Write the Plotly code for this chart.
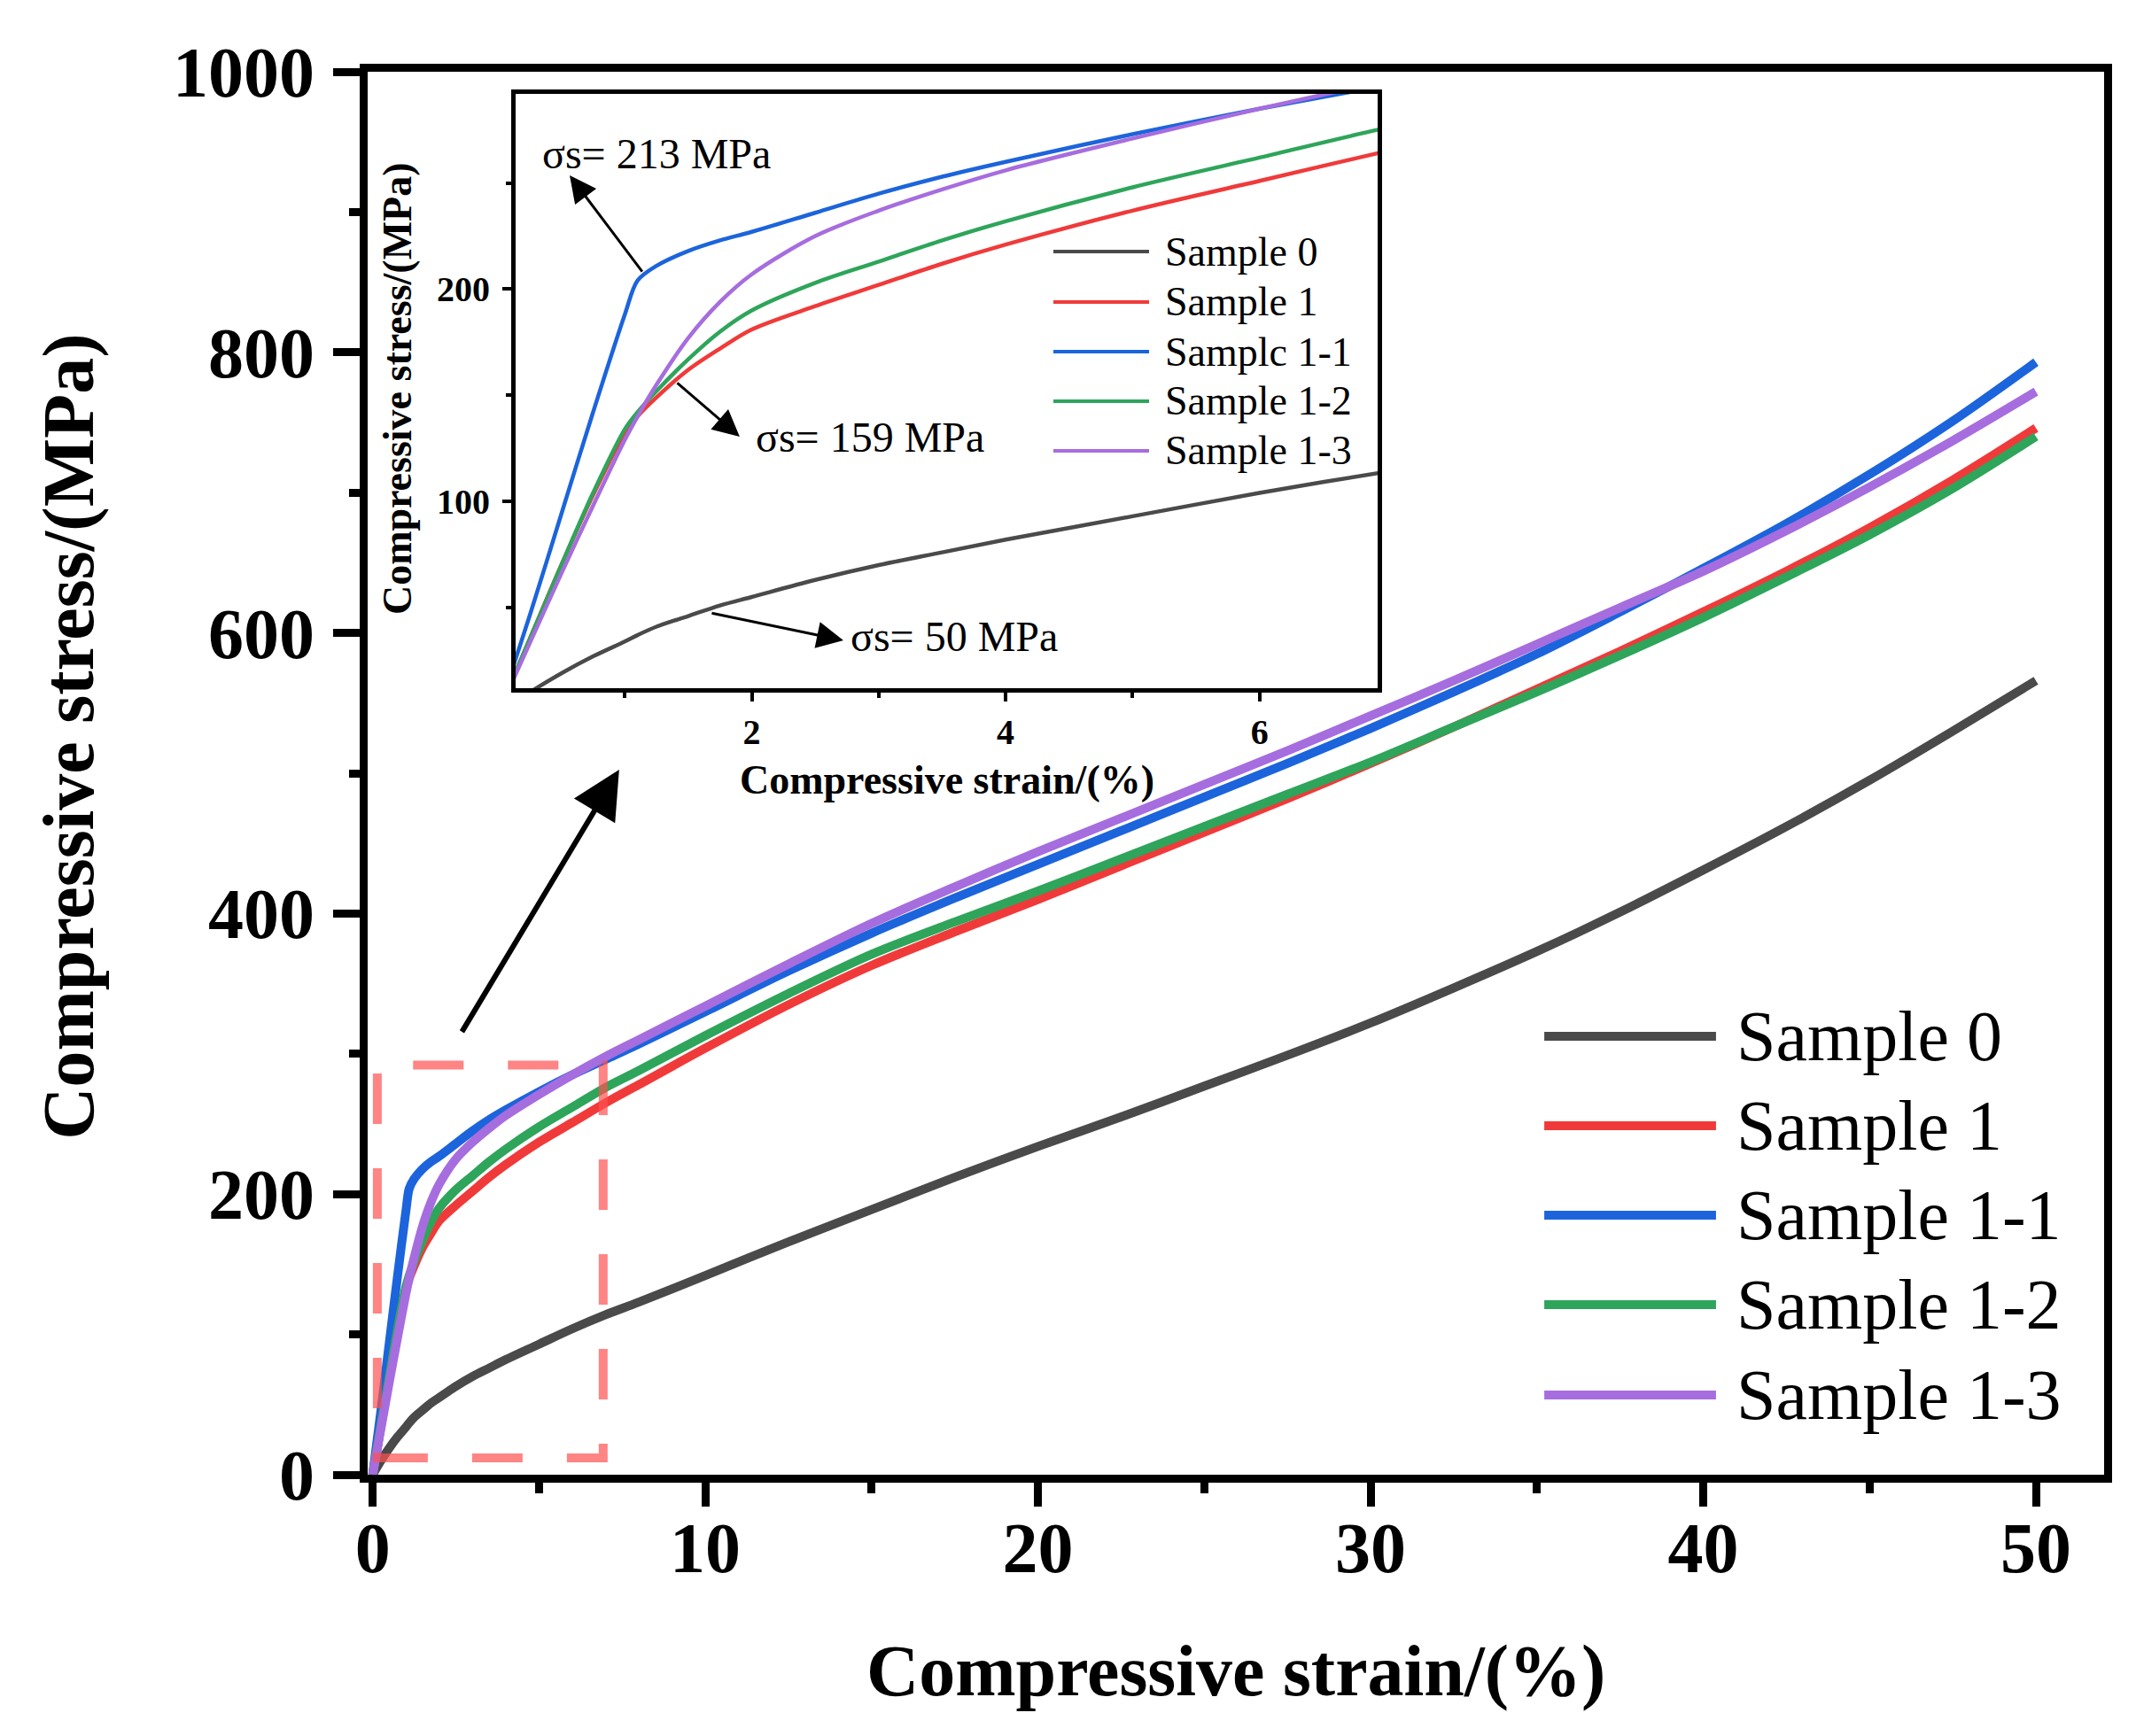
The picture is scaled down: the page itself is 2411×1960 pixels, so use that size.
import plotly.graph_objects as go

# strain (%) sample points, shared by all curves
strain = [0, 0.25, 0.5, 0.75, 1.0, 1.1, 1.25, 1.5, 1.75, 2, 2.5, 3, 3.5, 4, 5, 6, 7, 8, 10,
          12.5, 15, 17.5, 20, 22.5, 25, 27.5, 30, 32.5, 35, 37.5, 40, 42.5, 45, 47.5, 50]

# compressive stress (MPa)
sample_0 = [0, 10, 19, 27, 34, 37, 41, 46, 51, 55, 63, 70, 76, 82, 93, 104, 114, 123, 142,
            166, 189, 212, 234, 255, 277, 299, 322, 347, 373, 401, 431, 462, 495, 530, 566]
sample_1 = [0, 35, 70, 103, 132, 140, 149, 162, 172, 181, 192, 202, 212, 221, 237, 251, 265, 278, 304,
            335, 363, 387, 410, 434, 458, 482, 507, 533, 560, 587, 615, 644, 675, 709, 746]
sample_1_1 = [0, 46, 94, 142, 188, 204, 211, 218, 223, 227, 236, 245, 253, 260, 273, 285, 296, 307, 330,
              359, 386, 411, 435, 459, 483, 507, 532, 558, 585, 615, 646, 678, 713, 751, 793]
sample_1_2 = [0, 35, 70, 104, 134, 142, 152, 167, 180, 190, 203, 213, 223, 232, 248, 262, 276, 288, 313,
              343, 371, 394, 416, 439, 462, 485, 508, 533, 558, 584, 611, 640, 670, 703, 740]
sample_1_3 = [0, 33, 66, 98, 129, 140, 155, 177, 194, 207, 225, 237, 247, 256, 271, 285, 298, 310, 334,
              364, 393, 419, 444, 468, 492, 516, 541, 566, 592, 618, 644, 673, 704, 737, 772]

names = ["Sample 0", "Sample 1", "Sample 1-1", "Sample 1-2", "Sample 1-3"]
inset_names = ["Sample 0", "Sample 1", "Samplc 1-1", "Sample 1-2", "Sample 1-3"]
colors = ["#4a4a4a", "#f03a3a", "#1c64dc", "#2ea55a", "#a66ddf"]
series = [sample_0, sample_1, sample_1_1, sample_1_2, sample_1_3]

# zoomed window shown in the inset (and marked by the dashed box)
inset_x = [0.14, 6.93]
inset_y = [12, 292]

# yield-strength notes: (text, arrow tail, arrow head, text position) in inset data units
notes = [
    ("σs= 213 MPa", (1.145, 207.7), (0.566, 253.6), (0.335, 263.7)),
    ("σs= 159 MPa", (1.403, 156.4), (1.905, 130.5), (2.017, 130.5)),
    ("σs= 50 MPa", (1.675, 47.5), (2.722, 34.5), (2.764, 36.6)),
]

SERIF = "Liberation Serif"

fig = go.Figure()

for nm, c, ys in zip(names, colors, series):
    fig.add_trace(go.Scatter(x=strain, y=ys, mode="lines", name=nm,
                             line=dict(color=c, width=10, shape="spline", smoothing=0.9),
                             showlegend=False))

for nm, c, ys in zip(names, colors, series):
    fig.add_trace(go.Scatter(x=strain, y=ys, mode="lines", name=nm,
                             line=dict(color=c, width=4.5, shape="spline", smoothing=0.9),
                             xaxis="x2", yaxis="y2", showlegend=False))

big_tick = dict(family=SERIF, size=80, color="black", weight="bold")
small_tick = dict(family=SERIF, size=40, color="black", weight="bold")

fig.update_layout(
    width=2411, height=1960,
    margin=dict(l=407, r=44, t=73, b=303),
    paper_bgcolor="white", plot_bgcolor="white",
    xaxis=dict(range=[-0.15, 52.05], tick0=0, dtick=10, ticks="outside", ticklen=27,
               tickwidth=9, tickcolor="black", showline=True, linewidth=9, linecolor="black",
               mirror=True, showgrid=False, zeroline=False, tickfont=big_tick,
               ticklabelstandoff=-22,
               minor=dict(dtick=5, tick0=0, ticks="outside", ticklen=12, tickwidth=9,
                          tickcolor="black", showgrid=False)),
    yaxis=dict(range=[0, 1000], tick0=0, dtick=200, ticks="outside", ticklen=30,
               tickwidth=9, tickcolor="black", showline=True, linewidth=9, linecolor="black",
               mirror=True, showgrid=False, zeroline=False, tickfont=big_tick,
               ticklabelstandoff=5,
               minor=dict(dtick=100, tick0=0, ticks="outside", ticklen=12, tickwidth=9,
                          tickcolor="black", showgrid=False)),
    xaxis2=dict(domain=[0.0852, 0.5816], anchor="y2", range=inset_x,
                tickvals=[2, 4, 6], ticks="outside", ticklen=10, tickwidth=4,
                tickcolor="black", showline=True, linewidth=5, linecolor="black",
                mirror=True, showgrid=False, zeroline=False, tickfont=small_tick,
                ticklabelstandoff=0,
                minor=dict(tickvals=[1, 3, 5], ticks="outside", ticklen=6, tickwidth=4,
                           tickcolor="black", showgrid=False)),
    yaxis2=dict(domain=[0.5606, 0.9842], anchor="x2", range=inset_y,
                tickvals=[100, 200], ticks="outside", ticklen=10, tickwidth=4,
                tickcolor="black", showline=True, linewidth=5, linecolor="black",
                mirror=True, showgrid=False, zeroline=False, tickfont=small_tick,
                ticklabelstandoff=6,
                minor=dict(tickvals=[50, 150, 250], ticks="outside", ticklen=6, tickwidth=4,
                           tickcolor="black", showgrid=False)),
)

# dashed box marking the zoomed window
fig.add_shape(type="rect", xref="x", yref="y",
              x0=inset_x[0], x1=inset_x[1], y0=inset_y[0], y1=inset_y[1],
              line=dict(color="rgba(255,80,80,0.7)", width=10, dash="57px,50px"))

# axis titles
fig.add_annotation(text="Compressive strain/(%)", xref="paper", yref="paper",
                   x=0.5, y=-0.140, xanchor="center", yanchor="middle", showarrow=False,
                   font=dict(family=SERIF, size=82, color="black", weight="bold"))
fig.add_annotation(text="Compressive stress/(MPa)", xref="paper", yref="paper",
                   x=-0.172, y=0.526, xanchor="center", yanchor="middle",
                   showarrow=False, textangle=-90,
                   font=dict(family=SERIF, size=82, color="black", weight="bold"))
fig.add_annotation(text="Compressive strain/(%)", xref="paper", yref="paper",
                   x=0.3337, y=0.495, xanchor="center", yanchor="middle", showarrow=False,
                   font=dict(family=SERIF, size=46, color="black", weight="bold"))
fig.add_annotation(text="Compressive stress/(MPa)", xref="paper", yref="paper",
                   x=0.0174, y=0.774, xanchor="center", yanchor="middle",
                   showarrow=False, textangle=-90,
                   font=dict(family=SERIF, size=46, color="black", weight="bold"))

# main legend
main_rows = [0.3125, 0.2487, 0.185, 0.1212, 0.0568]
for nm, c, yy in zip(names, colors, main_rows):
    fig.add_shape(type="line", xref="paper", yref="paper", x0=0.6776, x1=0.7765,
                  y0=yy, y1=yy, line=dict(color=c, width=10))
    fig.add_annotation(text=nm, xref="paper", yref="paper", x=0.7872, y=yy,
                       xanchor="left", yanchor="middle", showarrow=False,
                       font=dict(family=SERIF, size=80, color="black"))

# inset legend
inset_rows = [0.8718, 0.8359, 0.8005, 0.7652, 0.7298]
for nm, c, yy in zip(inset_names, colors, inset_rows):
    fig.add_shape(type="line", xref="paper", yref="paper", x0=0.3949, x1=0.45,
                  y0=yy, y1=yy, line=dict(color=c, width=4))
    fig.add_annotation(text=nm, xref="paper", yref="paper", x=0.4582, y=yy,
                       xanchor="left", yanchor="middle", showarrow=False,
                       font=dict(family=SERIF, size=46, color="black"))

# yield strength notes inside the inset
for txt, tail, head, pos in notes:
    fig.add_annotation(text="", x=head[0], y=head[1], ax=tail[0], ay=tail[1],
                       xref="x2", yref="y2", axref="x2", ayref="y2",
                       showarrow=True, arrowhead=2, arrowsize=2.0, arrowwidth=3,
                       arrowcolor="black", standoff=0, startstandoff=0)
    fig.add_annotation(text=txt, x=pos[0], y=pos[1], xref="x2", yref="y2",
                       xanchor="left", yanchor="middle", showarrow=False,
                       font=dict(family=SERIF, size=48, color="black"))

# arrow from the dashed box up to the inset (main data units)
fig.add_annotation(text="", x=7.41, y=502.5, ax=2.66, ay=314.8,
                   xref="x", yref="y", axref="x", ayref="y",
                   showarrow=True, arrowhead=2, arrowsize=1.8, arrowwidth=6,
                   arrowcolor="black", standoff=0, startstandoff=0)

fig.write_html("out.html")
